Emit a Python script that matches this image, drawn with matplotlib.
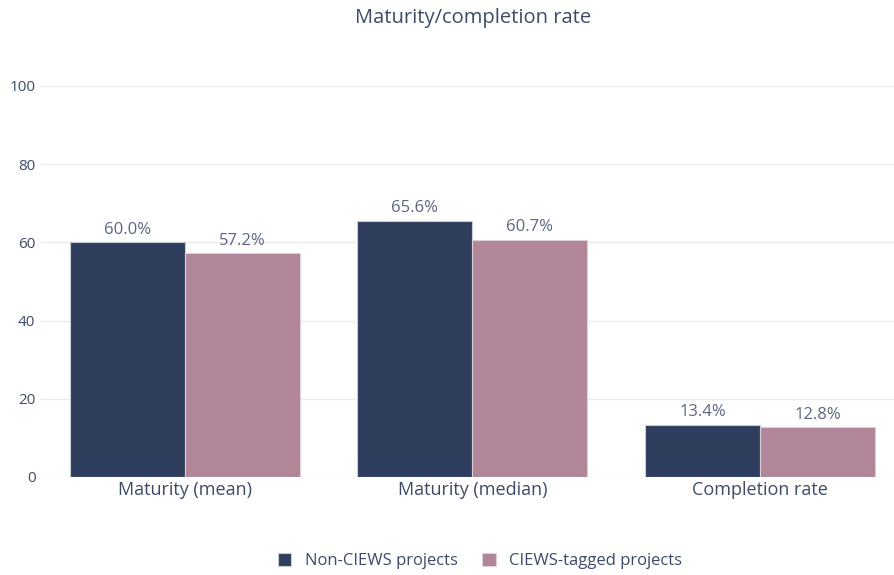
import matplotlib
matplotlib.use("Agg")
import matplotlib.pyplot as plt
import numpy as np

categories = ["Maturity (mean)", "Maturity (median)", "Completion rate"]
non_ciews = [60.0, 65.6, 13.4]
ciews_tagged = [57.2, 60.7, 12.8]
series_names = ["Non-CIEWS projects", "CIEWS-tagged projects"]
y_ticks = [0, 20, 40, 60, 80, 100]

plt.rcParams['font.family'] = ['Open Sans', 'DejaVu Sans']
txt = '#3d4b66'

fig = plt.figure(figsize=(8.94, 5.75), dpi=100)
W, H = 894, 575
ax = fig.add_axes([41 / W, (H - 477) / H, (894 - 41) / W, (477 - 86) / H])

x = np.arange(len(categories))
w = 0.4
b1 = ax.bar(x - w / 2, non_ciews, w, color='#2e3e5c', edgecolor='#c9cdd6', linewidth=0.8,
            label=series_names[0], zorder=3)
b2 = ax.bar(x + w / 2, ciews_tagged, w, color='#b08698', edgecolor='#ddd0d6', linewidth=0.8,
            label=series_names[1], zorder=3)

for bars in (b1, b2):
    ax.bar_label(bars, labels=[f"{v:.1f}%" for v in bars.datavalues], padding=3,
                 fontsize=12, color='#5a6683')

# plot area is cut off at the right edge of the image
ax.set_xlim(-0.5, 2.466)
ax.set_ylim(0, 100)
ax.set_yticks(y_ticks)
ax.set_xticks(x)
ax.set_xticklabels(categories, fontsize=13, color=txt)
ax.tick_params(axis='y', labelsize=11, colors=txt, length=0, pad=4)
ax.tick_params(axis='x', length=0, pad=3)
ax.grid(axis='y', color='#ebebeb', linewidth=1, zorder=0)
for s in ax.spines.values():
    s.set_visible(False)

fig.text(473 / W, 1 - 18 / H, "Maturity/completion rate", ha='center', va='center',
         fontsize=14.5, color=txt)

fig.legend(loc='center', bbox_to_anchor=(480 / W, 1 - 561 / H), ncol=2, frameon=False,
           fontsize=12, labelcolor=txt, handlelength=0.8, handleheight=0.8,
           columnspacing=1.5, handletextpad=0.8)

fig.savefig("out.png", dpi=100)
